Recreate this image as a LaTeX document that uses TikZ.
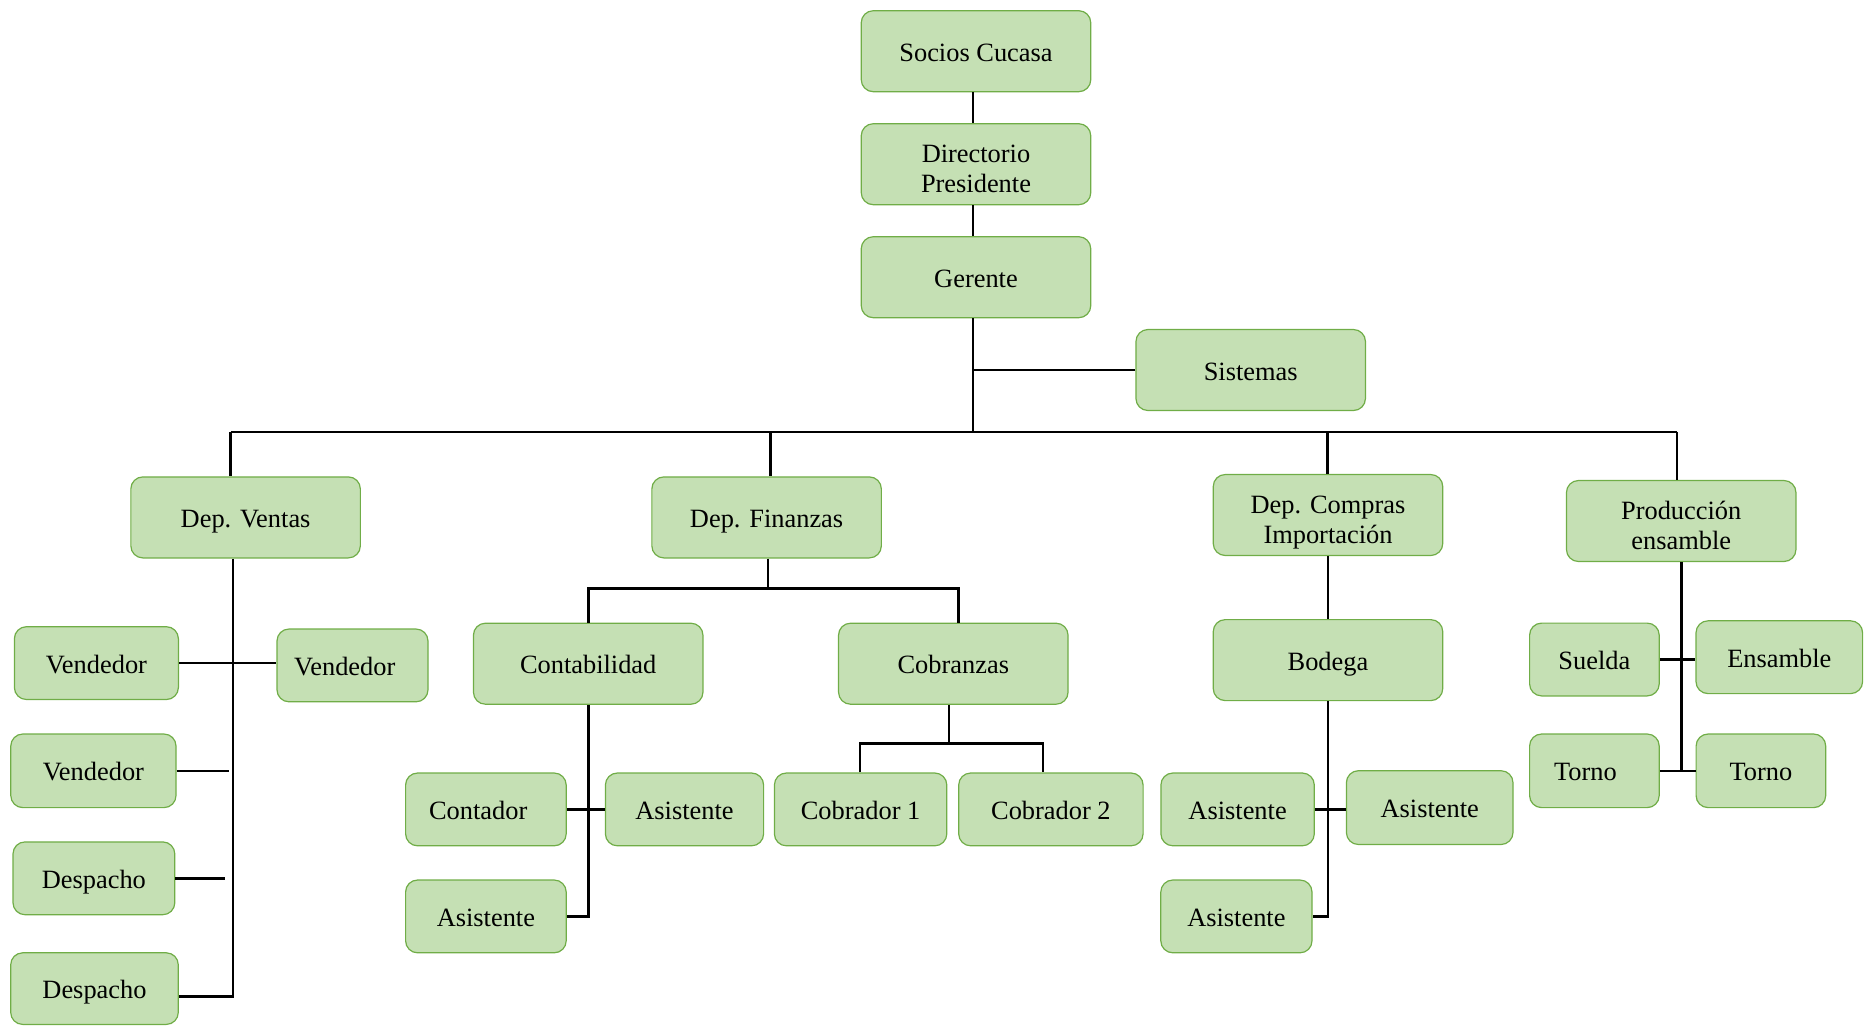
\documentclass[tikz,border=0pt]{standalone}
\usepackage{fontspec}
\setmainfont{Liberation Serif}
\definecolor{boxfill}{RGB}{197,224,180}
\definecolor{boxline}{RGB}{112,173,71}
\begin{document}
\begin{tikzpicture}[x=0.5pt,y=-0.5pt,
  box/.style={draw=boxline, fill=boxfill, line width=0.6pt, rounded corners=6pt,
    inner sep=0pt, align=center, font=\fontsize{13.2}{15}\selectfont,
    text height=1em, text depth=0pt},
  two/.style={text height=29pt, text depth=0.9pt},
  big/.style={box, minimum width=114.75pt, minimum height=40.5pt},
  small/.style={box, minimum height=36.4pt},
  conn/.style={line width=1.3pt, black}]
\useasboundingbox (0,0) rectangle (1865,1025);
% top
\node[big] (soc) at (976,51.2) {Socios Cucasa};
\node[big, two] (dir) at (976,164.2) {Directorio\\Presidente};
\node[big] (ger) at (976,277.2) {Gerente};
\node[big] (sis) at (1250.7,370) {Sistemas};
% level 2
\node[big] (ven) at (245.6,517.4) {Dep. Ventas};
\node[big] (fin) at (766.6,517.4) {Dep. Finanzas};
\node[big, two] (com) at (1328,515) {Dep. Compras\\Importación};
\node[big, two] (pro) at (1681.2,521) {Producción\\ensamble};
% ventas
\node[small, minimum width=82pt] (vd1) at (96.4,663.1) {Vendedor};
\node[small, minimum width=75.5pt] (vdr) at (352.5,665.4) {Vendedor\hspace*{7.7pt}};
\node[small, minimum width=82.6pt, minimum height=36.8pt] (vd2) at (93.4,770.8) {Vendedor};
\node[small, minimum width=80.9pt] (de1) at (93.9,878.3) {Despacho};
\node[small, minimum width=83.8pt, minimum height=35.8pt] (de2) at (94.5,988.6) {Despacho};
% finanzas
\node[big] (cont) at (588.2,663.7) {Contabilidad};
\node[big] (cobz) at (953.3,663.7) {Cobranzas};
\node[small, minimum width=80.3pt] (ctd) at (485.9,809.4) {Contador\hspace*{7.7pt}};
\node[small, minimum width=79.1pt] (as1) at (684.5,809.4) {Asistente};
\node[small, minimum width=80.3pt] (as2) at (485.9,916.4) {Asistente};
\node[small, minimum width=86.2pt] (cb1) at (860.6,809.4) {Cobrador 1};
\node[small, minimum width=92.2pt] (cb2) at (1050.9,809.4) {Cobrador 2};
% compras
\node[big] (bod) at (1328,660.1) {Bodega};
\node[small, minimum width=76.7pt] (as3) at (1237.6,809.4) {Asistente};
\node[small, minimum width=83.3pt, minimum height=36.9pt] (as4) at (1429.7,807.6) {Asistente};
\node[small, minimum width=75.6pt] (as5) at (1236.4,916.4) {Asistente};
% produccion
\node[small, minimum width=64.8pt] (sue) at (1594.4,659.5) {Suelda};
\node[small, minimum width=83.3pt] (ens) at (1779.3,657.2) {Ensamble};
\node[small, minimum width=64.8pt, minimum height=36.8pt] (to1) at (1594.4,770.8) {Torno\hspace*{9pt}};
\node[small, minimum width=64.8pt, minimum height=36.8pt] (to2) at (1760.9,770.8) {Torno};
% coordinates
\coordinate (gt) at (973,431.8);
\coordinate (b1) at (230.7,431.8);
\coordinate (b2) at (770.7,431.8);
\coordinate (b3) at (1327.4,431.8);
\coordinate (b4) at (1677,431.8);
\coordinate (vt) at (233,996.7);
\coordinate (vd2e) at (229,770.8);
\coordinate (de1e) at (225.3,878.3);
\coordinate (fb) at (768,588.7);
\coordinate (fr) at (958.7,588.7);
\coordinate (cbb) at (949,743.4);
\coordinate (cbl) at (860,743.4);
\coordinate (cbr) at (1043,743.4);
% connectors top
\draw[conn] (gt |- soc.south) -- (gt |- dir.north);
\draw[conn] (gt |- dir.south) -- (gt |- ger.north);
\draw[conn] (gt |- ger.south) -- (gt);
\draw[conn] (sis.west) -- (sis.west -| gt);
\draw[conn] (b1) -- (b4);
\draw[conn] (b1) -- (b1 |- ven.north);
\draw[conn] (b2) -- (b2 |- fin.north);
\draw[conn] (b3) -- (b3 |- com.north);
\draw[conn] (b4) -- (b4 |- pro.north);
% ventas
\draw[conn] (vt |- ven.south) -- (vt) -- (vt -| de2.east);
\draw[conn] (vd1.east) -- (vd1.east -| vdr.west);
\draw[conn] (vd2.east) -- (vd2e);
\draw[conn] (de1.east) -- (de1e);
% finanzas
\draw[conn] (fb |- fin.south) -- (fb);
\draw[conn] (cont.north) -- (cont.north |- fb) -- (fr) -- (fr |- cobz.north);
\draw[conn] (cont.south) -- (cont.south |- as2.east) -- (as2.east);
\draw[conn] (ctd.east) -- (as1.west);
\draw[conn] (cbb |- cobz.south) -- (cbb);
\draw[conn] (cbl |- cb1.north) -- (cbl) -- (cbr) -- (cbr |- cb2.north);
% compras
\draw[conn] (com.south) -- (bod.north);
\draw[conn] (bod.south) -- (bod.south |- as5.east) -- (as5.east);
\draw[conn] (as3.east) -- (as3.east -| as4.west);
% produccion
\draw[conn] (pro.south) -- (pro.south |- to1.east);
\draw[conn] (sue.east) -- (sue.east -| ens.west);
\draw[conn] (to1.east) -- (to2.west);
\end{tikzpicture}
\end{document}
